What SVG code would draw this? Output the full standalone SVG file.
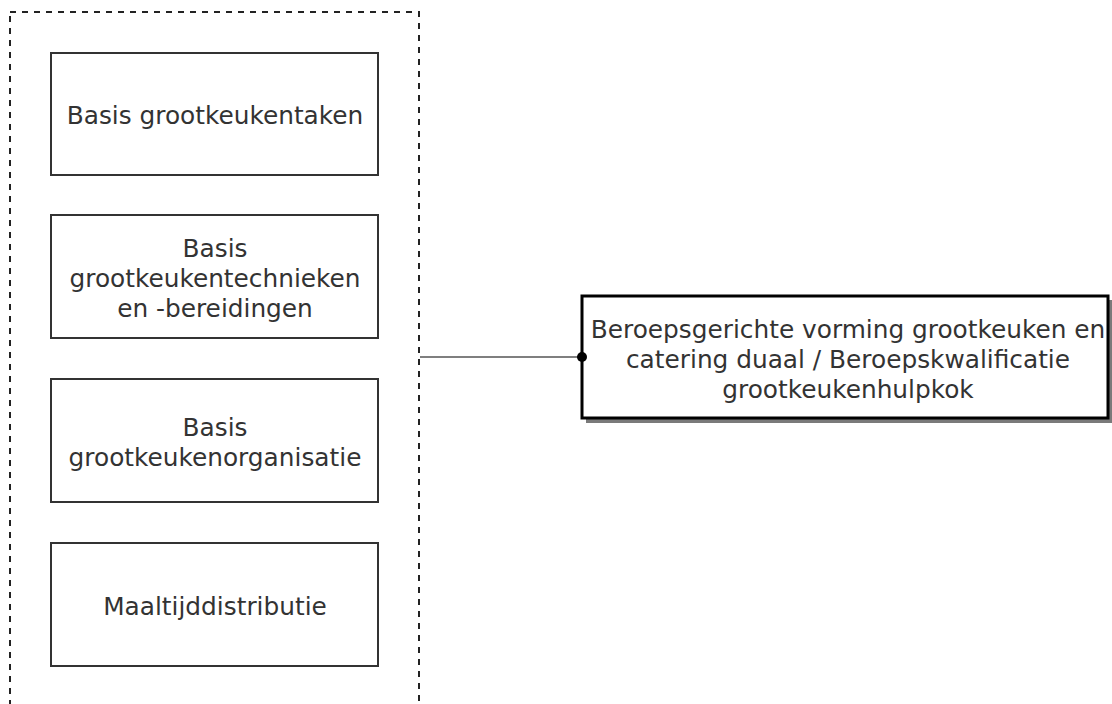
<svg xmlns="http://www.w3.org/2000/svg" width="1112" height="704" viewBox="0 0 1112 704">
  <style>
    .box { fill: #ffffff; stroke: #333333; stroke-width: 2; }
    .main { fill: #ffffff; stroke: #000000; stroke-width: 3; }
    .shadow { fill: #7a7a7a; }
    .lbl { font-family: "DejaVu Sans", Verdana, sans-serif; font-size: 24.8px; fill: #333333; text-anchor: middle; }
    .container { fill: none; stroke: #222222; stroke-width: 2; stroke-dasharray: 6 6; }
    .conn { fill: none; stroke: #555555; stroke-width: 1.5; }
  </style>
  <rect width="1112" height="704" fill="#ffffff"/>
  <g id="container">
    <rect class="container" x="10" y="12" width="409" height="700"/>
  </g>
  <g id="connectors">
    <line class="conn" x1="420" y1="357" x2="582" y2="357"/>
  </g>
  <g id="node-basis-taken">
    <rect class="box" x="51" y="53" width="327" height="122"/>
    <text class="lbl" x="215" y="124">Basis grootkeukentaken</text>
  </g>
  <g id="node-basis-technieken">
    <rect class="box" x="51" y="215" width="327" height="123"/>
    <text class="lbl" x="215" y="256.5">Basis</text>
    <text class="lbl" x="215" y="286.5">grootkeukentechnieken</text>
    <text class="lbl" x="215" y="316.5">en -bereidingen</text>
  </g>
  <g id="node-basis-organisatie">
    <rect class="box" x="51" y="379" width="327" height="123"/>
    <text class="lbl" x="215" y="435.5">Basis</text>
    <text class="lbl" x="215" y="465.5">grootkeukenorganisatie</text>
  </g>
  <g id="node-maaltijd">
    <rect class="box" x="51" y="543" width="327" height="123"/>
    <text class="lbl" x="215" y="614.5">Maaltijddistributie</text>
  </g>
  <g id="node-beroeps">
    <rect class="shadow" x="586" y="300" width="530" height="123"/>
    <rect class="main" x="582" y="296" width="526" height="122"/>
    <text class="lbl" x="848" y="337.5">Beroepsgerichte vorming grootkeuken en</text>
    <text class="lbl" x="848" y="367.5">catering duaal / Beroepskwalificatie</text>
    <text class="lbl" x="848" y="397.5">grootkeukenhulpkok</text>
  </g>
  <g id="connector-end">
    <circle cx="582" cy="357" r="5" fill="#000000"/>
  </g>
</svg>
